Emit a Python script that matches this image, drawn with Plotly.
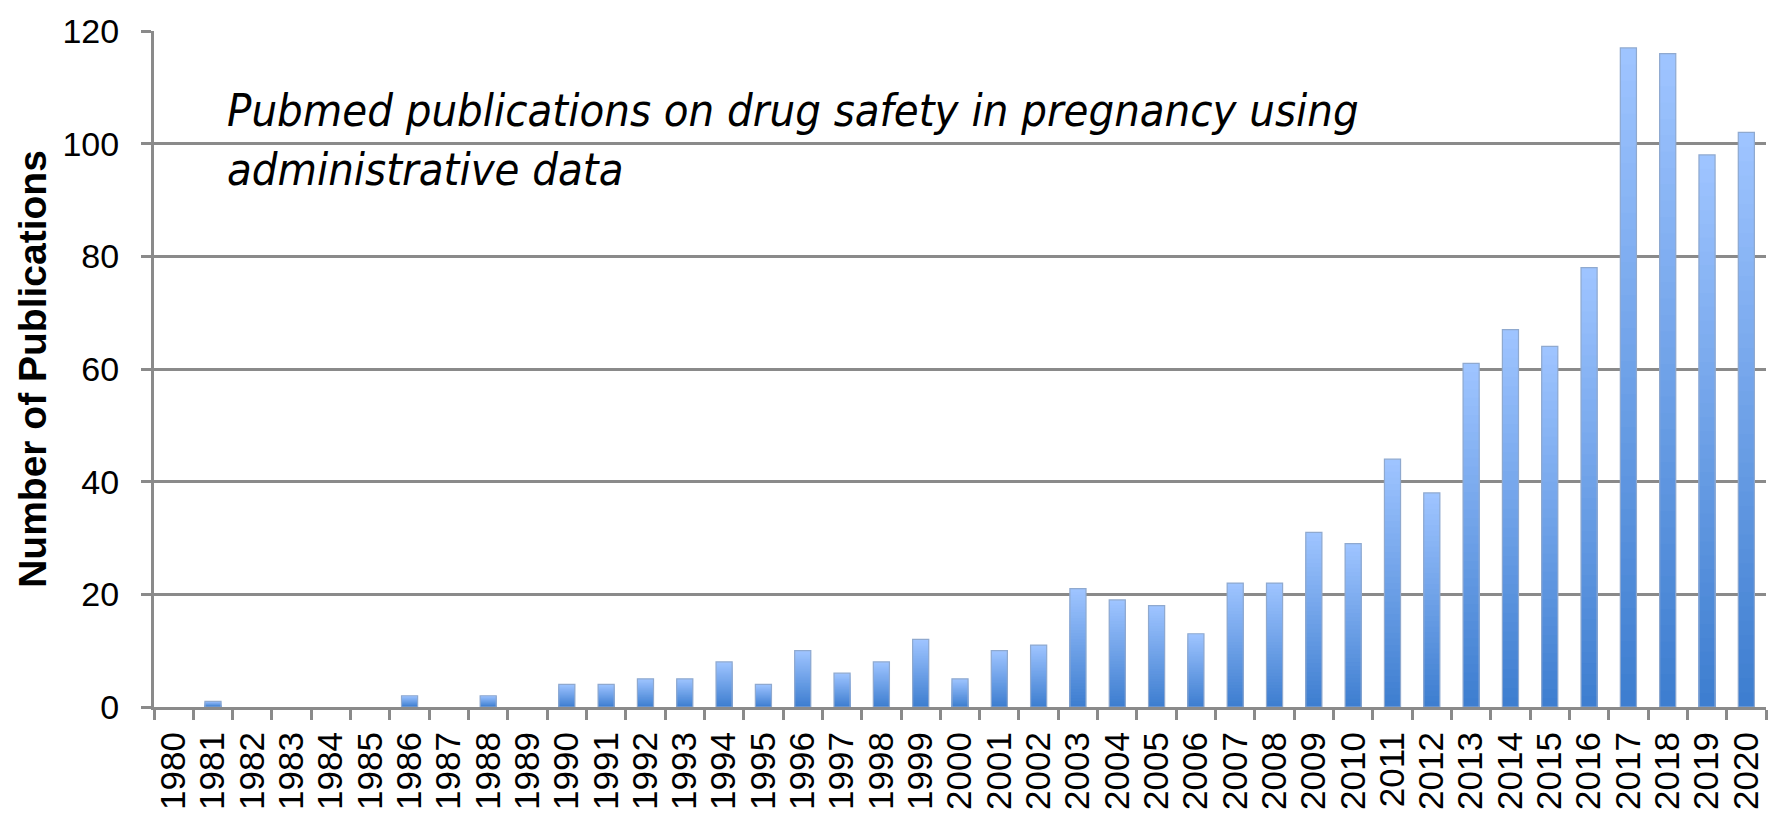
import plotly.graph_objects as go

# Yearly PubMed publication counts
years = [str(y) for y in range(1980, 2021)]
counts = [0, 1, 0, 0, 0, 0, 2, 0, 2, 0,
          4, 4, 5, 5, 8, 4, 10, 6, 8, 12,
          5, 10, 11, 21, 19, 18, 13, 22, 22, 31,
          29, 44, 38, 61, 67, 64, 78, 117, 116, 98,
          102]

y_ticks = [0, 20, 40, 60, 80, 100, 120]
y_title = "Number of Publications"
note = "Pubmed publications on drug safety in pregnancy using<br>administrative data"

# Vertical gradient: light blue at the top of each bar, deeper blue at the base
top_rgb = (158, 196, 255)
bottom_rgb = (62, 126, 208)
n_steps = 40
bar_width = 0.41

fig = go.Figure()
for k in range(n_steps):
    frac = 1 - k / n_steps          # fraction of bar height covered by this layer
    t = k / (n_steps - 1)
    r, g, b = (round(top_rgb[i] + (bottom_rgb[i] - top_rgb[i]) * t) for i in range(3))
    fig.add_trace(go.Bar(
        x=years, y=[c * frac for c in counts],
        width=bar_width,
        marker=dict(color=f"rgb({r},{g},{b})", line=dict(width=0)),
        showlegend=False, hoverinfo="skip",
    ))

# Thin outline round each non-empty bar
fig.add_trace(go.Bar(
    x=years, y=counts, width=bar_width,
    marker=dict(
        color="rgba(0,0,0,0)",
        line=dict(color=["#8fa9cf" if c > 0 else "rgba(0,0,0,0)" for c in counts], width=1.2),
    ),
    showlegend=False,
))

grid_col = "#8a8a8a"
fig.update_layout(
    width=1781, height=822,
    margin=dict(l=154, r=15, t=29, b=112),
    paper_bgcolor="white", plot_bgcolor="white",
    barmode="overlay",
    font=dict(family="Liberation Sans, Arial, sans-serif", color="black"),
    xaxis=dict(
        type="category",
        tickmode="array", tickvals=years, ticktext=years,
        tickangle=-90,
        tickfont=dict(size=35),
        ticks="outside", ticklen=10, tickwidth=2.5, tickcolor=grid_col,
        tickson="boundaries",
        ticklabelstandoff=8,
        showline=True, linecolor=grid_col, linewidth=3,
        showgrid=False,
        range=[-0.5, len(years) - 0.5],
    ),
    yaxis=dict(
        range=[0, 120],
        tickvals=y_ticks,
        tickfont=dict(size=34),
        ticks="outside", ticklen=10, tickwidth=2.5, tickcolor=grid_col,
        showline=True, linecolor=grid_col, linewidth=3,
        showgrid=True, gridcolor=grid_col, gridwidth=2.5,
        zeroline=False,
        ticklabelstandoff=15,
        title=dict(text=f"<b>{y_title}</b>", font=dict(size=39), standoff=4),
    ),
    annotations=[dict(
        text=note,
        xref="paper", yref="y",
        x=(225 - 154) / 1612, y=111,
        xanchor="left", yanchor="top", align="left",
        showarrow=False,
        font=dict(family="Liberation Sans Narrow, DejaVu Sans Condensed, sans-serif",
                  size=45, color="black", style="italic"),
    )],
)

fig.write_html("out.html")
